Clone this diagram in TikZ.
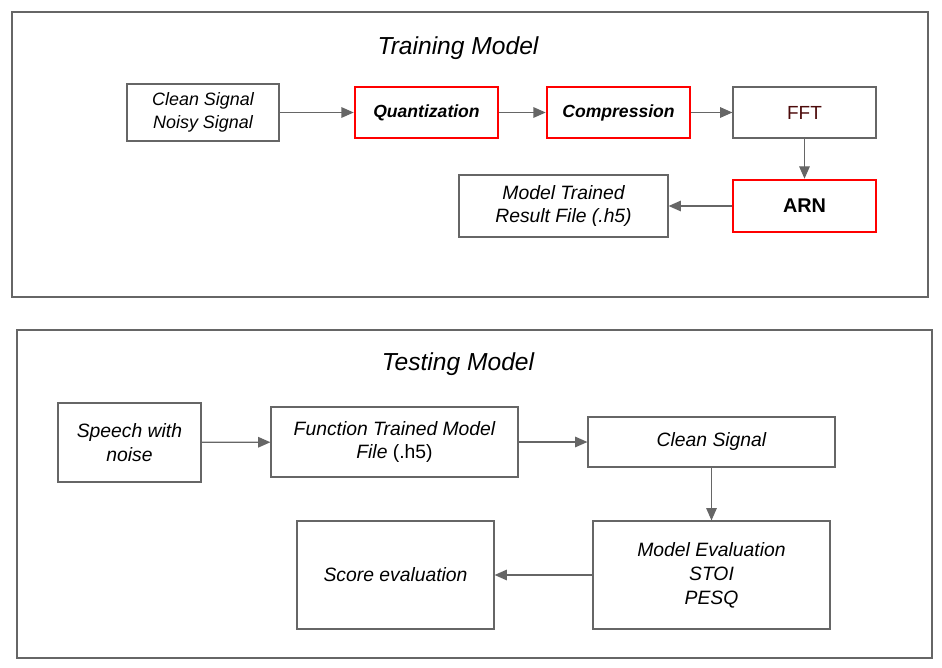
\documentclass[tikz,border=0pt]{standalone}
\usepackage{fontspec}
\setmainfont{Liberation Sans}
\usepackage{tikz}
\usetikzlibrary{positioning,arrows.meta}

\definecolor{lineGray}{RGB}{102,102,102}
\definecolor{boxRed}{RGB}{255,0,0}
\definecolor{fftText}{RGB}{76,10,10}

\begin{document}
\begin{tikzpicture}[x=0.02cm, y=-0.02cm,
	frame/.style={draw=lineGray, line width=0.8pt},
	block/.style={draw=lineGray, line width=0.7pt, align=center,
		inner sep=0pt, font=\fontsize{11}{13.6}\selectfont\itshape},
	redblock/.style={block, draw=boxRed, line width=1.5pt},
	title/.style={font=\fontsize{14}{16}\selectfont\itshape},
	flow/.style={draw=lineGray, line width=0.7pt, -{Triangle[length=7pt, width=6pt]}}
]

\useasboundingbox (0,0) rectangle (942,668);

% Frames
\node [frame, minimum width=18.32cm, minimum height=5.70cm] (training_frame) at (470,154.5) {};
\node [frame, minimum width=18.30cm, minimum height=6.56cm] (testing_frame) at (474.5,494) {};

% Titles
\node [title] (training_title) at (458,48) {Training Model};
\node [title] (testing_title) at (458,364) {Testing Model};

% Clean / noisy signal
\node [block,
	minimum width=3.04cm,
	minimum height=1.14cm,
	font=\fontsize{10.2}{13}\selectfont\itshape
] (signals) at (203,112.5) {
Clean Signal\\
Noisy Signal
};

% Quantization
\node [redblock,
	minimum width=2.86cm,
	minimum height=1.02cm,
	font=\fontsize{10}{12}\selectfont\bfseries\itshape
] (quantization) at (426.5,112.5) {Quantization};

% Compression
\node [redblock,
	minimum width=2.86cm,
	minimum height=1.02cm,
	font=\fontsize{10}{12}\selectfont\bfseries\itshape
] (compression) at (618.5,112.5) {Compression};

% FFT
\node [block,
	minimum width=2.86cm,
	minimum height=1.02cm,
	text=fftText,
	font=\fontsize{10.8}{13}\selectfont
] (fft) at (804.5,112.5) {FFT};

% ARN
\node [redblock,
	minimum width=2.86cm,
	minimum height=1.04cm,
	font=\fontsize{11.3}{13}\selectfont\bfseries
] (arn) at (804.5,206) {ARN};

% Trained model file
\node [block,
	minimum width=4.18cm,
	minimum height=1.24cm
] (trained_file) at (563.5,206) {
Model Trained\\
Result File (.h5)
};

% Speech with noise
\node [block,
	minimum width=2.86cm,
	minimum height=1.58cm
] (speech) at (129.5,442.5) {
Speech with\\
noise
};

% Function trained model
\node [block,
	minimum width=4.94cm,
	minimum height=1.40cm
] (function_model) at (394.5,442) {
Function Trained Model\\
File {\upshape(.h5)}
};

% Clean signal
\node [block,
	minimum width=4.94cm,
	minimum height=1.00cm
] (clean_signal) at (711.5,442) {Clean Signal};

% Model evaluation
\node [block,
	minimum width=4.74cm,
	minimum height=2.16cm
] (model_evaluation) at (711.5,575) {
Model Evaluation\\
STOI\\
PESQ
};

% Score evaluation
\node [block,
	minimum width=3.94cm,
	minimum height=2.16cm
] (score_evaluation) at (395.5,575) {Score evaluation};

% Arrows
\draw[flow] (signals) -- (quantization);
\draw[flow] (quantization) -- (compression);
\draw[flow] (compression) -- (fft);
\draw[flow] (fft) -- (arn);
\draw[flow] (arn) -- (trained_file);

\draw[flow] (speech) -- (function_model);
\draw[flow] (function_model) -- (clean_signal);
\draw[flow] (clean_signal) -- (model_evaluation);
\draw[flow] (model_evaluation) -- (score_evaluation);

\end{tikzpicture}
\end{document}
